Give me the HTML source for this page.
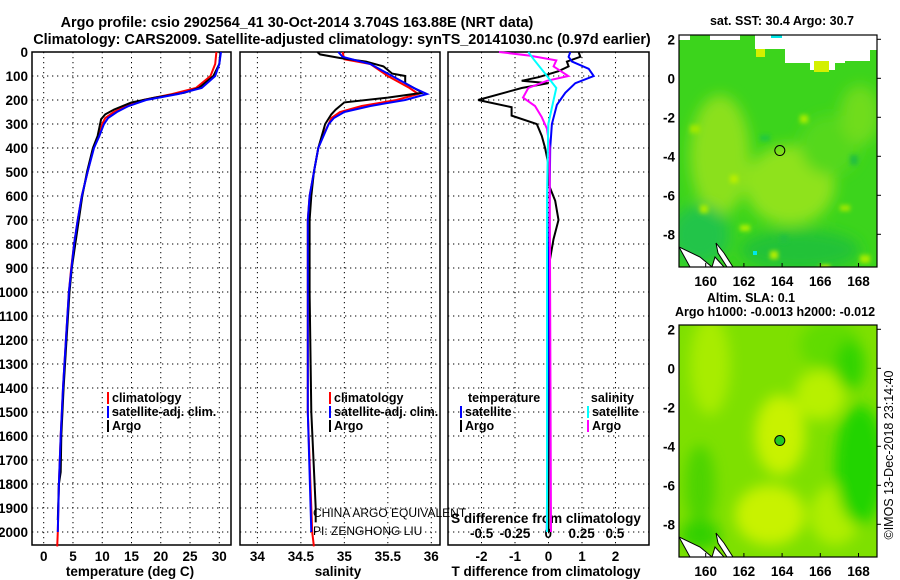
<!DOCTYPE html>
<html><head><meta charset="utf-8"><style>
body{margin:0;background:#fff}
svg{display:block;font-family:"Liberation Sans",sans-serif;font-weight:bold}
</style></head><body>
<svg id="c" width="900" height="580" viewBox="0 0 900 580" xmlns="http://www.w3.org/2000/svg">
<defs><filter id="bl" x="-50%" y="-50%" width="200%" height="200%"><feGaussianBlur stdDeviation="7"/></filter>
<filter id="bl2" x="-50%" y="-50%" width="200%" height="200%"><feGaussianBlur stdDeviation="2"/></filter>
<clipPath id="cm1"><rect x="679" y="35" width="198" height="232"/></clipPath>
<clipPath id="cm2"><rect x="679" y="325" width="198" height="232"/></clipPath></defs>
<text x="297" y="27" font-size="14.4" text-anchor="middle">Argo profile: csio 2902564_41 30-Oct-2014 3.704S 163.88E (NRT data)</text>
<text x="342" y="44" font-size="14.4" text-anchor="middle">Climatology: CARS2009. Satellite-adjusted climatology: synTS_20141030.nc (0.97d earlier)</text>
<g id="g"></g>
</svg>
<script>
const depthTicks=[0,100,200,300,400,500,600,700,800,900,1000,1100,1200,1300,1400,1500,1600,1700,1800,1900,2000];
const tTicks=[0,5,10,15,20,25,30];
const sTicks=[34,34.5,35,35.5,36];
const sTickLabels=['34','34.5','35','35.5','36'];
const dTTicks=[-2,-1,0,1,2];
const dSTicks=[-0.5,-0.25,0,0.25,0.5];
const dSTickLabels=['-0.5','-0.25','0','0.25','0.5'];
// temperature profiles
const climTDepth=[0,50,100,150,175,200,225,250,275,300,350,400,500,600,700,800,900,1000,1200,1400,1600,1800,2000,2060];
const climT=[29.5,29.3,28.5,26,22,17,14,12,10.5,10,9.5,8.5,7.5,6.5,5.8,5.2,4.7,4.3,3.8,3.3,2.9,2.6,2.4,2.3];
const satTDepth=[0,50,100,150,175,200,225,250,275,300,350,400,500,600,700,800,1000,1200,1400,1600,1800,2000];
const satT=[30.3,30,29.3,27,23,17.5,14.5,12.5,11,10.3,9.5,8.6,7.5,6.5,5.8,5.2,4.3,3.8,3.3,2.9,2.6,2.4];
const argoTDepth=[0,50,100,150,170,190,210,240,260,280,350,400,500,600,700,800,900,1000,1200,1400,1600,1750,1800,1950];
const argoT=[30.2,30,29,26.5,24,19,15,12,10.5,9.8,9.2,8.4,7.4,6.6,6,5.4,4.8,4.4,3.9,3.4,3,2.9,2.6,2.4];
// salinity profiles
const climSDepth=[0,30,50,100,150,175,200,225,250,275,300,350,400,500,600,700,1000,1500,2000,2060];
const climS=[34.98,35.0,35.3,35.5,35.75,35.85,35.6,35.2,34.95,34.85,34.82,34.75,34.7,34.65,34.6,34.58,34.58,34.58,34.63,34.65];
const satSDepth=[0,20,50,100,150,175,200,225,250,275,300,400,500,600,700,1500,2000];
const satS=[34.93,34.98,35.3,35.55,35.8,35.95,35.7,35.3,35.0,34.88,34.82,34.7,34.65,34.6,34.58,34.58,34.62];
const argoSDepth=[0,10,25,40,60,90,100,130,150,170,190,210,240,260,300,400,500,600,700,1000,1500,1900,1960];
const argoS=[34.69,34.72,34.95,35.25,35.45,35.55,35.7,35.7,35.8,35.9,35.5,35.0,34.9,34.85,34.78,34.7,34.65,34.62,34.6,34.6,34.62,34.67,34.67];
// differences from climatology
const argoDTDepth=[0,20,40,60,80,105,120,130,150,200,230,265,300,350,400,470,550,620,700,780,900,1000,1500,2000];
const argoDT=[0.9,0.95,0.55,0.6,0.3,-0.3,-0.8,0,-0.8,-2.1,-1.1,-1.1,-0.35,-0.2,-0.1,0,0,0.2,0.3,0.15,0,0,0,0];
const satDTDepth=[0,20,40,70,100,130,170,220,300,400,1000,2000];
const satDT=[0.65,0.6,0.7,1.2,1.35,0.8,0.5,0.25,0.1,0.05,0,-0.05];
const argoDSDepth=[0,15,35,60,100,120,150,190,225,270,320,400,2000];
const argoDS=[-0.37,-0.14,0.06,0.04,0.15,-0.01,-0.15,-0.19,-0.1,-0.05,-0.01,0.01,0.02];
const satDSDepth=[0,30,100,150,200,300,600,2000];
const satDS=[-0.15,-0.11,-0.01,0.06,0.04,0,-0.01,-0.01];
// maps
const mapLonTicks=[160,162,164,166,168];
const mapLatTicks=[2,0,-2,-4,-6,-8];
const floatLon=[163.88], floatLat=[-3.704];

const NS='http://www.w3.org/2000/svg', G=document.getElementById('g');
function el(t,a,p){const e=document.createElementNS(NS,t);for(const k in a)e.setAttribute(k,a[k]);(p||G).appendChild(e);return e;}
const top0=52,bot0=545;
const yD=d=>52+d*0.24;
const P=[{x0:32,x1:231,v0:-2,v1:32},{x0:240,x1:440,v0:33.8,v1:36.1},{x0:448,x1:649,v0:-3,v1:3}];
const xs=(p,v)=>p.x0+(v-p.v0)/(p.v1-p.v0)*(p.x1-p.x0);
const xDS=v=>548.3+v*133.3;
function frame(p,ticks,name){
  for(const t of ticks){const x=xs(p,t);
    const l=el('line',{x1:x,x2:x,y1:top0,y2:bot0,stroke:'#000','stroke-dasharray':'1.3 3.7','stroke-width':1});
    }
  for(const d of depthTicks){const y=yD(d);
    const l=el('line',{x1:p.x0,x2:p.x1,y1:y,y2:y,stroke:'#000','stroke-dasharray':'1.3 3.7','stroke-width':1});
    }
  const r=el('rect',{x:p.x0,y:top0,width:p.x1-p.x0,height:bot0-top0,fill:'none',stroke:'#000','stroke-width':1.5});
  
}
function line(p,xf,ds,vs,col,name,w){
  const pts=ds.map((d,i)=>xf(vs[i]).toFixed(1)+','+yD(d).toFixed(1)).join(' ');
  const l=el('polyline',{points:pts,fill:'none',stroke:col,'stroke-width':w||2});
  
}
function txt(x,y,s,a,size,name,extra){const t=el('text',Object.assign({x:x,y:y,'font-size':size||13,'text-anchor':a||'middle'},extra||{}));t.textContent=s;
  return t;}

frame(P[0],tTicks,'temperature-panel');frame(P[1],sTicks,'salinity-panel');frame(P[2],dTTicks,'difference-panel');
for(const d of depthTicks)txt(28,yD(d)+5,String(d),'end',13.5,'depth-tick-label');
tTicks.forEach(t=>txt(xs(P[0],t),561,String(t),'middle',13.5,'temperature-tick-label'));
sTicks.forEach((t,i)=>txt(xs(P[1],t),561,sTickLabels[i],'middle',13.5,'salinity-tick-label'));
dTTicks.forEach(t=>txt(xs(P[2],t),561,String(t),'middle',13.5,'t-diff-tick-label'));
dSTicks.forEach((t,i)=>txt(xDS(t),538,dSTickLabels[i],'middle',13.5,'s-diff-tick-label'));
txt(130,576,'temperature (deg C)','middle',13.5,'x-axis-title-temperature');
txt(338,576,'salinity','middle',13.5,'x-axis-title-salinity');
txt(546,576,'T difference from climatology','middle',13.5,'x-axis-title-t-difference');
txt(546,523,'S difference from climatology','middle',13.5,'x-axis-title-s-difference');

const p0=P[0],p1=P[1],p2=P[2];
line(p0,v=>xs(p0,v),climTDepth,climT,'#f00','climatology-temperature-line');
line(p0,v=>xs(p0,v),argoTDepth,argoT,'#000','argo-temperature-line');
line(p0,v=>xs(p0,v),satTDepth,satT,'#00f','satellite-temperature-line');
line(p1,v=>xs(p1,v),climSDepth,climS,'#f00','climatology-salinity-line');
line(p1,v=>xs(p1,v),argoSDepth,argoS,'#000','argo-salinity-line');
line(p1,v=>xs(p1,v),satSDepth,satS,'#00f','satellite-salinity-line');
line(p2,v=>xs(p2,v),argoDTDepth,argoDT,'#000','argo-t-difference-line');
line(p2,v=>xs(p2,v),satDTDepth,satDT,'#00f','satellite-t-difference-line');
line(p2,xDS,argoDSDepth,argoDS,'#f0f','argo-s-difference-line');
line(p2,xDS,satDSDepth,satDS,'#0ff','satellite-s-difference-line');

function leg(x,y,col,s,name){const r=el('rect',{x:x,y:y-10,width:2,height:12,fill:col});
  txt(x+5,y,s,'start',12.5,name);}
[[0,'#f00','climatology'],[1,'#00f','satellite-adj. clim.'],[2,'#000','Argo']].forEach(([i,c,s])=>{
  leg(107,402+i*14,c,s,'temperature-legend-entry');leg(329,402+i*14,c,s,'salinity-legend-entry');});
txt(468,402,'temperature','start',12.5,'difference-legend-temperature-heading');
txt(634,402,'salinity','end',12.5,'difference-legend-salinity-heading');
leg(460,416,'#00f','satellite','difference-legend-t-satellite');leg(460,430,'#000','Argo','difference-legend-t-argo');
leg(587,416,'#0ff','satellite','difference-legend-s-satellite');leg(587,430,'#f0f','Argo','difference-legend-s-argo');
txt(313,517,'CHINA ARGO EQUIVALENT','start',12,'pi-institution-note',{'font-weight':'normal'});
txt(313,535,'PI: ZENGHONG LIU','start',12,'pi-name-note',{'font-weight':'normal'});

const lx=v=>705.7+(v-160)*19.1;
function map(y0,clip,name,base,blobs,sub,fine){
  const yL=v=>y0+4.3+(2-v)*19.5;
  const g=el('g',{'clip-path':'url(#'+clip+')'});
  el('rect',{x:679,y:y0,width:198,height:232,fill:base},g);
  const bg=el('g',{filter:'url(#bl)'},g);
  blobs.forEach(b=>el('ellipse',{cx:b[0],cy:y0+b[1],rx:b[2],ry:b[3],fill:b[4]},bg));
  if(fine){const fg=el('g',{filter:'url(#bl2)'},g);fine.forEach(b=>el('rect',{x:b[0],y:y0+b[1],width:b[2],height:b[3],fill:b[4]},fg));}
  if(sub)sub(g,yL);
  el('path',{d:`M679 ${y0+212} L700 ${y0+222} L712 ${y0+232} L690 ${y0+232} Z`,fill:'#fff',stroke:'#000','stroke-width':1},g);
  el('path',{d:`M715 ${y0+222} L724 ${y0+232} L712 ${y0+232} Z`,fill:'#fff',stroke:'#000',"stroke-width":1},g);
  el('path',{d:`M716 ${y0+208} L724 ${y0+218} L733 ${y0+232} L727 ${y0+232} L718 ${y0+218} Z`,fill:'#fff',stroke:'#000','stroke-width':1},g);
  const f=el('rect',{x:679,y:y0,width:198,height:232,fill:'none',stroke:'#000','stroke-width':1.2});
  
  mapLonTicks.forEach(v=>{el('line',{x1:lx(v),x2:lx(v),y1:y0+232,y2:y0+228,stroke:'#000'});txt(lx(v),y0+251,String(v),'middle',13.5,name+'-lon-label');});
  mapLatTicks.forEach(v=>{el('line',{x1:877,x2:881,y1:yL(v),y2:yL(v),stroke:'#000'});txt(675,yL(v)+5,String(v),'end',13.5,name+'-lat-label');});
  return yL;
}
const yL1=map(35,'cm1','sst-map','#3cd41c',[[720,120,30,60,'#8be01a'],[790,150,45,40,'#8fe21a'],[830,110,30,30,'#55d81a'],[700,200,30,30,'#22c44a'],[800,215,60,20,'#24c238'],[860,80,20,30,'#6fdc1a']],(g,yL)=>{
  el('path',{d:'M679 35 L679 40 L690 40 L690 35 Z M710 35 L710 40 L740 40 L740 35 L755 35 L755 49 L785 49 L785 63 L810 63 L810 70 L835 70 L835 63 L845 63 L845 61 L870 61 L870 50 L877 50 L877 35 Z',fill:'#fff'},g);
  el('rect',{x:814,y:61,width:15,height:11,fill:'#d4f000'},g);
  el('rect',{x:756,y:49,width:9,height:8,fill:'#d4f000'},g);
  el('rect',{x:771,y:35,width:11,height:3,fill:'#00e8e8'},g);
  el('rect',{x:753,y:251,width:4,height:4,fill:'#00e8e8'},g);
},[[690,90,10,8,'#a0e800'],[730,140,8,8,'#b8ee00'],[760,100,10,6,'#20c840'],[800,80,8,8,'#a8ec00'],[850,120,8,10,'#20c040'],[700,170,8,8,'#a8ec00'],[740,190,10,6,'#b0f000'],[780,200,8,8,'#20c040'],[840,170,10,6,'#a0e800'],[860,220,10,8,'#a8ec00'],[770,216,8,8,'#b8ee00'],[820,230,10,6,'#c8f000']]);
const yL2=map(325,'cm2','sla-map','#7ee000',[[780,110,25,40,'#c8f200'],[770,190,35,30,'#c8f200'],[835,190,25,30,'#b0ee00'],[860,140,25,60,'#22d400'],[830,20,30,25,'#60dc00'],[710,40,20,50,'#a8ec00'],[820,70,25,25,'#b8f000'],[700,160,15,40,'#4ed400'],[850,40,15,25,'#30d400'],[700,210,20,15,'#30d000']]);
function circ(yL,fill,name){const c=el('circle',{cx:lx(floatLon[0]),cy:yL(floatLat[0]),r:5,fill:fill,stroke:'#000','stroke-width':1});}
circ(yL1,'none','sst-map-float-marker');circ(yL2,'#22c822','sla-map-float-marker');
txt(782,25,'sat. SST: 30.4 Argo: 30.7','middle',12.5,'sst-map-title');
txt(751,302,'Altim. SLA: 0.1','middle',12.5,'sla-map-title');
txt(775,316,'Argo h1000: -0.0013 h2000: -0.012','middle',12.5,'sla-map-subtitle');
txt(0,0,'©IMOS 13-Dec-2018 23:14:40','middle',12.5,'imos-timestamp',{transform:'translate(893 455) rotate(-90)','font-weight':'normal'});
</script>
</body></html>
